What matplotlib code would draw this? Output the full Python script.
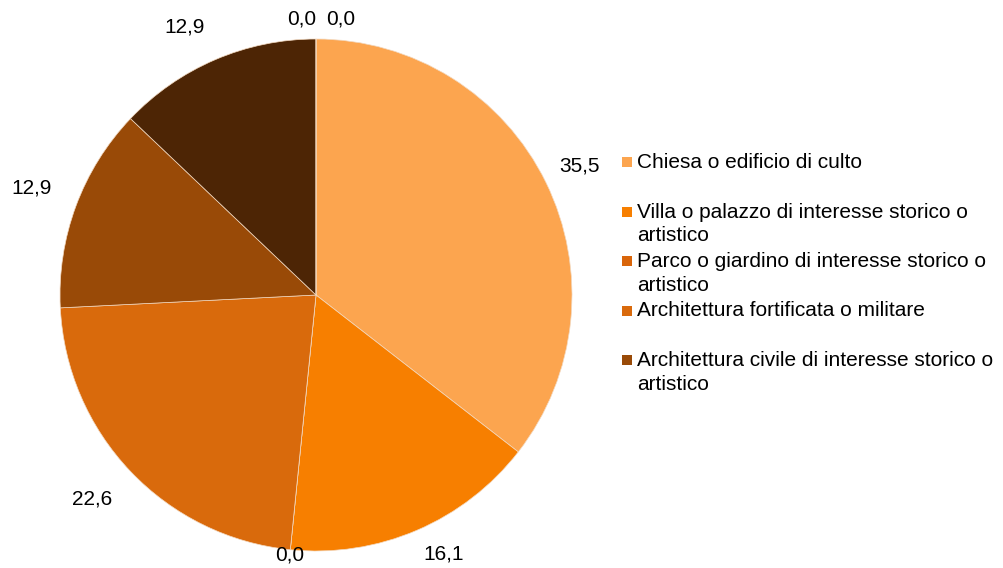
import textwrap
import numpy as np
import matplotlib
matplotlib.use("Agg")
from matplotlib import pyplot as plt
from matplotlib.patches import Rectangle

plt.rcParams['font.family'] = ['Liberation Sans', 'DejaVu Sans']

# slices, clockwise from the top
categories = ["Chiesa o edificio di culto",
              "Villa o palazzo di interesse storico o artistico",
              "Parco o giardino di interesse storico o artistico",
              "Architettura fortificata o militare",
              "Architettura civile di interesse storico o artistico",
              "Altro 1", "Altro 2", "Altro 3"]
values = [35.5, 16.1, 0.0, 22.6, 12.9, 12.9, 0.0, 0.0]
colors = ["#FCA54F", "#F77F00", "#D9650A", "#D96A0C",
          "#994A07", "#4D2505", "#2E1603", "#1E0E02"]
n_legend = 5  # only the first five show in the legend

fig = plt.figure(figsize=(10.04, 5.68), dpi=100)
W, H = 1004, 568
cx, cy, R = 316, 295, 256
ax = fig.add_axes([(cx - R) / W, (H - cy - R) / H, 2 * R / W, 2 * R / H])

wedges, _ = ax.pie(values, colors=colors, startangle=90, counterclock=False,
                   radius=1, wedgeprops=dict(edgecolor="#f3d9c0", linewidth=0.5))
ax.set_xlim(-1, 1)
ax.set_ylim(-1, 1)
ax.axis("off")

# data labels
def fmt(v):
    return ("%.1f" % v).replace(".", ",")

total = sum(values)
start = 0.0
top_zero = 0
for v in values:
    mid = (start + v / 2) / total * 2 * np.pi
    start += v
    dx, dy = np.sin(mid), np.cos(mid)
    if v == 0 and start >= total:
        # the two zero slices at the top sit side by side
        ha = "right" if top_zero == 0 else "left"
        x = 0.0 if top_zero == 0 else 0.04
        top_zero += 1
        ax.text(x, 1.04, fmt(v), ha=ha, va="bottom", fontsize=15)
        continue
    if abs(dx) < 0.15:
        ax.text(dx * 1.02, dy * 1.02, fmt(v), ha="center", va="center", fontsize=15)
        continue
    r = 1.06 if dx > 0 else 1.1
    ha = "left" if dx > 0 else "right"
    va = "bottom" if dy > 0 else "top"
    ax.text(dx * r, dy * r, fmt(v), ha=ha, va=va, fontsize=15)

# legend, top aligned slots
for i in range(n_legend):
    ytop = 162 + 49.5 * i
    fig.add_artist(Rectangle((622 / W, 1 - (ytop + 5) / H), 10 / W, 10 / H,
                             transform=fig.transFigure, facecolor=colors[i],
                             edgecolor="none"))
    fig.text(637 / W, 1 - (ytop - 9) / H, textwrap.fill(categories[i], 42),
             ha="left", va="top", fontsize=15, linespacing=1.3)

fig.savefig("out.png", dpi=100)
